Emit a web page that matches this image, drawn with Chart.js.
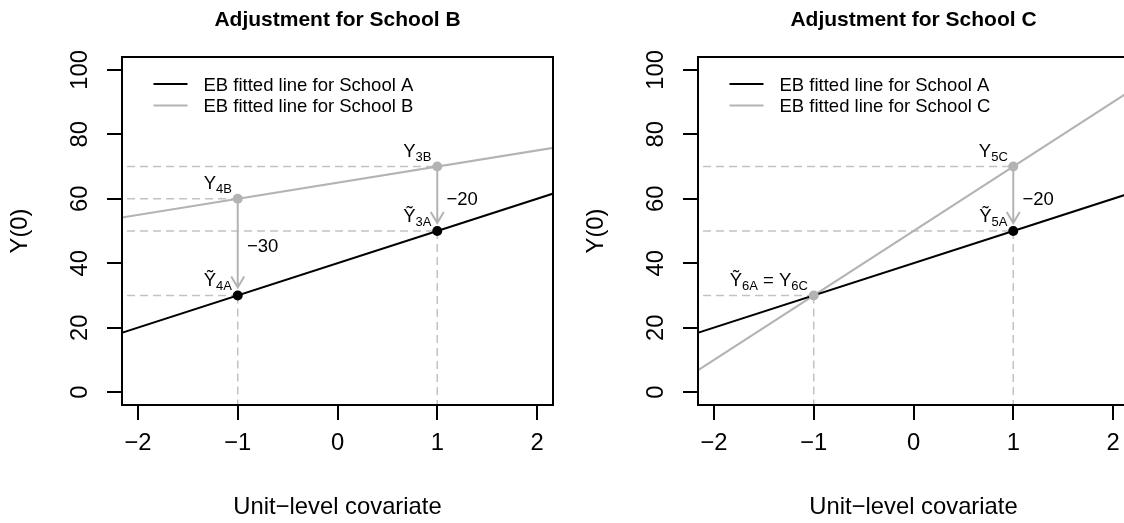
<!DOCTYPE html>
<html>
<head>
<meta charset="utf-8">
<script src="https://cdn.jsdelivr.net/npm/chart.js@4.4.1/dist/chart.umd.min.js"></script>
<style>
  html, body { margin: 0; padding: 0; background: #fff; overflow: hidden; width: 1124px; height: 523px; }
  .panel { position: absolute; top: 0; width: 576px; height: 523px; }
  #wrapB { left: 0; }
  #wrapC { left: 576px; }
</style>
</head>
<body>
<div class="panel" id="wrapB"><canvas id="chartB" width="576" height="523"></canvas></div>
<div class="panel" id="wrapC"><canvas id="chartC" width="576" height="523"></canvas></div>
<script>
const xTicks = [-2, -1, 0, 1, 2];
const yTicks = [0, 20, 40, 60, 80, 100];
const xRange = [-2.16, 2.16];
const yRange = [-4, 104];

const lineX = [-2.5, 2.5];
const schoolA = [15, 65];
const schoolB = [52.5, 77.5];
const schoolC = [0, 100];

// panel B
const grayPtsB = [[-1, 60], [1, 70]];
const blackPtsB = [[-1, 30], [1, 50]];
const hGuidesB = [[-1, 60], [1, 70], [-1, 30], [1, 50]];
const vGuidesB = [[-1, 30], [1, 50]];
const arrowsB = [[-1, 60, 32.5], [1, 70, 52.5]];
const labelsB = [
  { x: -1.2, y: 65, parts: [['Y'], ['4B', 1]] },
  { x: 0.8, y: 75, parts: [['Y'], ['3B', 1]] },
  { x: 0.8, y: 55, parts: [['\u1EF8'], ['3A', 1]] },
  { x: -1.2, y: 35, parts: [['\u1EF8'], ['4A', 1]] },
  { x: 1.25, y: 60, parts: [['\u221220']] },
  { x: -0.75, y: 45.5, parts: [['\u221230']] }
];

// panel C
const grayPtsC = [[1, 70], [-1, 30]];
const blackPtsC = [[1, 50]];
const hGuidesC = [[1, 70], [1, 50], [-1, 30]];
const vGuidesC = [[1, 50], [-1, 30]];
const arrowsC = [[1, 70, 52.5]];
const labelsC = [
  { x: 0.8, y: 75, parts: [['Y'], ['5C', 1]] },
  { x: 0.8, y: 55, parts: [['\u1EF8'], ['5A', 1]] },
  { x: 1.25, y: 60, parts: [['\u221220']] },
  { x: -1.45, y: 35, parts: [['\u1EF8'], ['6A', 1], [' = Y'], ['6C', 1]] }
];

const FONT = '"Liberation Sans", Arial, Helvetica, sans-serif';
const GRAY = '#b3b3b3';
const GUIDE = '#c2c2c2';
const AXIS_SIZE = 23.8;
Chart.defaults.font.family = FONT;
Chart.defaults.color = '#000';

function pts(xs, ys) { return xs.map((x, i) => ({ x: x, y: ys[i] })); }
function minus(v) { return v < 0 ? '\u2212' + Math.abs(v) : String(v); }

function datasets(p) {
  const ds = [];
  const dashed = { showLine: true, borderColor: GUIDE, borderWidth: 1.5, borderDash: [8, 5], pointRadius: 0, order: 3 };
  p.hGuides.forEach(g => ds.push(Object.assign({ data: [{ x: lineX[0], y: g[1] }, { x: g[0], y: g[1] }] }, dashed)));
  p.vGuides.forEach(g => ds.push(Object.assign({ data: [{ x: g[0], y: g[1] }, { x: g[0], y: yRange[0] - 10 }] }, dashed)));
  ds.push({ label: 'EB fitted line for School A', legend: true, data: pts(lineX, schoolA), showLine: true,
            borderColor: '#000', borderWidth: 2, pointRadius: 0, order: 2 });
  ds.push({ label: p.other, legend: true, data: pts(lineX, p.otherLine), showLine: true,
            borderColor: GRAY, borderWidth: 2, pointRadius: 0, order: 2.5 });
  ds.push({ data: p.blackPts.map(d => ({ x: d[0], y: d[1] })), pointRadius: 5, backgroundColor: '#000', borderWidth: 0, order: 1 });
  ds.push({ data: p.grayPts.map(d => ({ x: d[0], y: d[1] })), pointRadius: 5, backgroundColor: GRAY, borderWidth: 0, order: 0 });
  return ds;
}

function drawRich(ctx, parts, cx, cy) {
  const big = 18.5, small = 13;
  let total = 0;
  parts.forEach(p => { ctx.font = (p[1] ? small : big) + 'px ' + FONT; total += ctx.measureText(p[0]).width; });
  const base = cy + big * 0.358;
  let x = cx - total / 2;
  ctx.textAlign = 'left';
  ctx.textBaseline = 'alphabetic';
  parts.forEach(p => {
    ctx.font = (p[1] ? small : big) + 'px ' + FONT;
    ctx.fillText(p[0], x, p[1] ? base + 4 : base);
    x += ctx.measureText(p[0]).width;
  });
}

const decor = {
  id: 'decor',
  afterDatasetsDraw(chart, args, o) {
    const { ctx, scales: { x, y } } = chart;
    ctx.save();
    ctx.strokeStyle = GRAY;
    ctx.lineWidth = 2;
    o.arrows.forEach(a => {
      const px = x.getPixelForValue(a[0]);
      const y0 = y.getPixelForValue(a[1]);
      const y1 = y.getPixelForValue(a[2]);
      ctx.beginPath();
      ctx.moveTo(px, y0); ctx.lineTo(px, y1);
      ctx.moveTo(px - 6.5, y1 - 11); ctx.lineTo(px, y1); ctx.lineTo(px + 6.5, y1 - 11);
      ctx.stroke();
    });
    ctx.restore();
  },
  afterDraw(chart, args, o) {
    const { ctx, chartArea: a, scales: { x, y } } = chart;
    ctx.save();
    // box
    ctx.strokeStyle = '#000';
    ctx.lineWidth = 2;
    ctx.strokeRect(a.left, a.top, a.right - a.left, a.bottom - a.top);
    // title
    ctx.fillStyle = '#000';
    ctx.font = 'bold 21px ' + FONT;
    ctx.textAlign = 'center';
    ctx.textBaseline = 'alphabetic';
    ctx.fillText(o.title, (a.left + a.right) / 2, 25.5);
    // legend
    const items = chart.data.datasets.filter(d => d.legend);
    ctx.font = '18.5px ' + FONT;
    items.forEach((d, i) => {
      const cy = a.top + 27 + i * 21.5;
      ctx.strokeStyle = d.borderColor;
      ctx.lineWidth = 2;
      ctx.beginPath();
      ctx.moveTo(a.left + 31.5, cy); ctx.lineTo(a.left + 65.5, cy);
      ctx.stroke();
      ctx.textAlign = 'left';
      ctx.fillText(d.label, a.left + 81.5, cy + 18.5 * 0.358);
    });
    // point labels
    o.labels.forEach(l => drawRich(ctx, l.parts, x.getPixelForValue(l.x), y.getPixelForValue(l.y)));
    ctx.restore();
  }
};

function makeChart(id, p) {
  const grid = { drawOnChartArea: false, drawTicks: true, tickLength: 15, color: '#000', lineWidth: 2 };
  return new Chart(document.getElementById(id), {
    type: 'scatter',
    data: { datasets: datasets(p) },
    options: {
      responsive: false,
      animation: false,
      layout: { padding: { top: 57, right: 23, left: 0, bottom: 0 } },
      plugins: {
        legend: { display: false },
        tooltip: { enabled: false },
        decor: { title: p.title, arrows: p.arrows, labels: p.labels }
      },
      scales: {
        x: {
          type: 'linear', min: xRange[0], max: xRange[1],
          afterBuildTicks: s => { s.ticks = xTicks.map(v => ({ value: v })); },
          afterFit: s => { s.height = 118; },
          grid: grid,
          border: { display: false },
          ticks: { padding: 9, minRotation: 0, maxRotation: 0, autoSkip: false, color: '#000',
                   font: { size: AXIS_SIZE }, callback: v => minus(v) },
          title: { display: true, text: 'Unit\u2212level covariate', color: '#000',
                   font: { size: AXIS_SIZE }, padding: { top: 0, bottom: 1 } }
        },
        y: {
          type: 'linear', min: yRange[0], max: yRange[1],
          afterBuildTicks: s => { s.ticks = yTicks.map(v => ({ value: v })); },
          afterFit: s => { s.width = 122; },
          grid: grid,
          border: { display: false },
          ticks: { padding: 7, minRotation: 90, maxRotation: 90, crossAlign: 'center', color: '#000',
                   font: { size: AXIS_SIZE }, callback: v => minus(v) },
          title: { display: true, text: 'Y(0)', color: '#000', font: { size: AXIS_SIZE }, padding: { top: 6, bottom: 0 } }
        }
      }
    },
    plugins: [decor]
  });
}

makeChart('chartB', {
  title: 'Adjustment for School B', other: 'EB fitted line for School B', otherLine: schoolB,
  grayPts: grayPtsB, blackPts: blackPtsB, hGuides: hGuidesB, vGuides: vGuidesB,
  arrows: arrowsB, labels: labelsB
});
makeChart('chartC', {
  title: 'Adjustment for School C', other: 'EB fitted line for School C', otherLine: schoolC,
  grayPts: grayPtsC, blackPts: blackPtsC, hGuides: hGuidesC, vGuides: vGuidesC,
  arrows: arrowsC, labels: labelsC
});
</script>
</body>
</html>
